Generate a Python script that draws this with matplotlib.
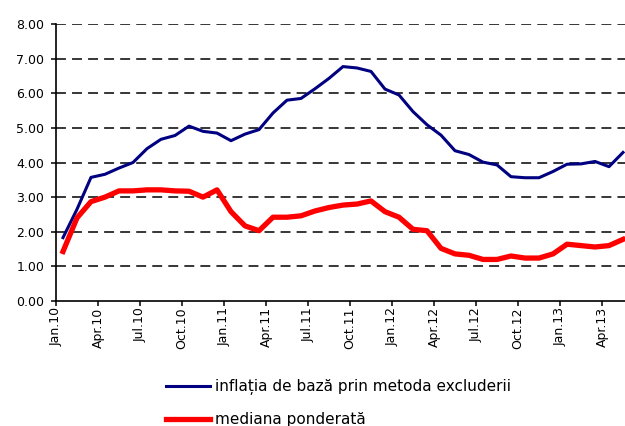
import matplotlib
matplotlib.use("Agg")
import matplotlib.pyplot as plt
from matplotlib.lines import Line2D

# Monthly series, Jan.10 - May.13 (annual rate, %)
months = ["Jan.10", "Feb.10", "Mar.10", "Apr.10", "May.10", "Jun.10",
          "Jul.10", "Aug.10", "Sep.10", "Oct.10", "Nov.10", "Dec.10",
          "Jan.11", "Feb.11", "Mar.11", "Apr.11", "May.11", "Jun.11",
          "Jul.11", "Aug.11", "Sep.11", "Oct.11", "Nov.11", "Dec.11",
          "Jan.12", "Feb.12", "Mar.12", "Apr.12", "May.12", "Jun.12",
          "Jul.12", "Aug.12", "Sep.12", "Oct.12", "Nov.12", "Dec.12",
          "Jan.13", "Feb.13", "Mar.13", "Apr.13", "May.13"]

core_exclusion = [1.83, 2.65, 3.57, 3.66, 3.84, 4.00, 4.40, 4.67, 4.78, 5.05,
                  4.90, 4.85, 4.63, 4.82, 4.95, 5.43, 5.80, 5.85, 6.13, 6.43,
                  6.77, 6.73, 6.63, 6.12, 5.95, 5.47, 5.09, 4.79, 4.34, 4.23,
                  4.01, 3.93, 3.59, 3.56, 3.56, 3.74, 3.95, 3.96, 4.03, 3.88,
                  4.29]

weighted_median = [1.43, 2.40, 2.87, 3.00, 3.18, 3.18, 3.21, 3.21, 3.18, 3.17,
                   3.00, 3.21, 2.58, 2.17, 2.03, 2.42, 2.42, 2.46, 2.60, 2.70,
                   2.77, 2.80, 2.89, 2.58, 2.42, 2.07, 2.03, 1.52, 1.36, 1.32,
                   1.20, 1.20, 1.30, 1.24, 1.24, 1.36, 1.64, 1.60, 1.56, 1.60,
                   1.78]

series_labels = ["inflația de bază prin metoda excluderii", "mediana ponderată"]
y_ticks = [0, 1, 2, 3, 4, 5, 6, 7, 8]

plt.rcParams["font.family"] = ["DejaVu Sans"]

fig = plt.figure(figsize=(6.25, 4.26), dpi=100)
ax = fig.add_axes([56 / 625, (426 - 301) / 426, 1 - 56 / 625, (301 - 24) / 426])

x = list(range(len(months)))
ax.plot(x, core_exclusion, color="#000080", lw=2.2, zorder=3)
ax.plot(x, weighted_median, color="#ff0000", lw=3.8, solid_joinstyle="round",
        zorder=3)

ax.set_ylim(0, 8)
ax.set_xlim(-0.5, -0.5 + (625 - 56) / 14)
ax.set_yticks(y_ticks)
ax.set_yticklabels([f"{v:.2f}" for v in y_ticks], fontsize=9)

tick_pos = [i - 0.5 for i in range(0, len(months), 3)]
ax.set_xticks(tick_pos)
ax.set_xticklabels([months[i] for i in range(0, len(months), 3)],
                   rotation=90, fontsize=9, va="top", ha="center")

for v in y_ticks[1:]:
    ax.axhline(v, color="black", lw=1.1, dashes=(6.5, 4.0), zorder=1)

for side in ("top", "right"):
    ax.spines[side].set_visible(False)
for side in ("left", "bottom"):
    ax.spines[side].set_linewidth(1.2)
    ax.spines[side].set_color("black")
ax.tick_params(axis="y", direction="out", length=3.5, width=1.1, pad=5)
ax.tick_params(axis="x", direction="out", length=3.5, width=1.1, pad=1)

handles = [Line2D([], [], color="#000080", lw=2.2),
           Line2D([], [], color="#ff0000", lw=3.8)]
fig.legend(handles, series_labels, loc="upper left",
           bbox_to_anchor=(160 / 625, 1 - 373 / 426), frameon=False,
           fontsize=11, handlelength=2.9, handletextpad=0.3,
           labelspacing=1.1, borderaxespad=0)

fig.savefig("out.png", dpi=100)
